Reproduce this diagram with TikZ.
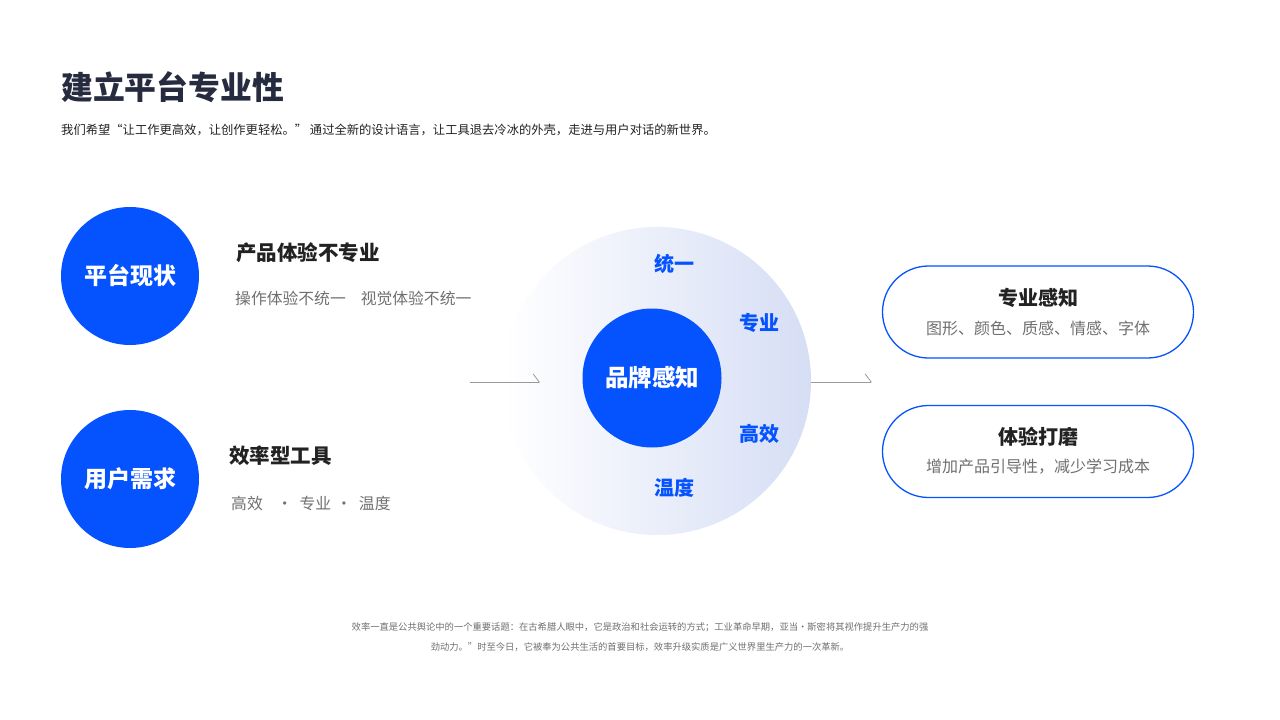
\documentclass[tikz,border=0pt]{standalone}
\usepackage{fontspec}
\setmainfont{Noto Sans CJK SC}
\usetikzlibrary{arrows.meta,shapes.misc}
\definecolor{brand}{HTML}{0552FF}
\definecolor{titlec}{HTML}{272B3F}
\definecolor{dark}{HTML}{222222}
\definecolor{greytxt}{HTML}{707070}
\definecolor{ringR}{HTML}{D6DEF5}
\definecolor{arrowc}{HTML}{9A9A9A}
\tikzset{
  bluedisc/.style={circle, fill=brand, minimum size=138pt, inner sep=0pt, text=white, font=\fontsize{23}{23}\selectfont\bfseries},
  heading/.style={anchor=west, inner sep=0pt, text=dark, font=\fontsize{20.5}{20.5}\selectfont\bfseries},
  sub/.style={anchor=west, inner sep=0pt, text=greytxt, font=\fontsize{15.8}{15.8}\selectfont},
  ringlabel/.style={inner sep=0pt, text=brand, font=\fontsize{20}{20}\selectfont\bfseries},
  pill/.style={rounded rectangle, draw=brand, line width=1.3pt, minimum width=311pt, minimum height=92pt, inner sep=0pt},
  pilltitle/.style={inner sep=0pt, text=dark, font=\fontsize{20}{20}\selectfont\bfseries},
  pillsub/.style={inner sep=0pt, text=greytxt, font=\fontsize{16}{16}\selectfont},
  flow/.style={draw=arrowc, line width=0.8pt, -{Straight Barb[left,length=6pt,width=16pt]}},
}
\begin{document}
\begin{tikzpicture}[x=1pt,y=-1pt]
\useasboundingbox[fill=white] (0,0) rectangle (1280,720);

% title
\node[anchor=west, inner sep=0pt, text=titlec, font=\fontsize{31.8}{31.8}\selectfont\bfseries] (title) at (61,87) {建立平台专业性};
\node[anchor=west, inner sep=0pt, text=dark, font=\fontsize{12.3}{12.3}\selectfont] (subtitle) at (61,130) {我们希望“让工作更高效，让创作更轻松。” 通过全新的设计语言，让工具退去冷冰的外壳，走进与用户对话的新世界。};

% left discs
\node[bluedisc] (d1) at (130,276) {平台现状};
\node[bluedisc] (d2) at (130,479) {用户需求};

\node[heading] (h1) at (236,253) {产品体验不专业};
\node[sub] (s1) at (235,298) {操作体验不统一\hspace{15pt}视觉体验不统一};
\node[heading] (h2) at (229,456) {效率型工具};
\node[sub] (s2) at (231,503) {高效\hspace{14pt}·\hspace{7pt}专业\hspace{5pt}·\hspace{7pt}温度};

% central ring
\node[circle, minimum size=308pt, inner sep=0pt, left color=white, right color=ringR, shading angle=90] (ring) at (657,381) {};
\node[circle, fill=brand, minimum size=139pt, inner sep=0pt, text=white, font=\fontsize{23.5}{23.5}\selectfont\bfseries] (core) at (652,378) {品牌感知};
\node[ringlabel] (l1) at (674,264) {统一};
\node[ringlabel] (l2) at (759,323) {专业};
\node[ringlabel] (l3) at (759,434) {高效};
\node[ringlabel] (l4) at (674,488) {温度};

% arrows
\coordinate (a1s) at (470,382);
\coordinate (a1e) at (540,382);
\coordinate (a2s) at (811,382);
\coordinate (a2e) at (872,382);
\draw[flow] (a1s) -- (a1e);
\draw[flow] (a2s) -- (a2e);

% pills
\node[pill] (p1) at (1038,312) {};
\node[pilltitle] (p1t) at ([yshift=14pt]p1.center) {专业感知};
\node[pillsub] (p1s) at ([yshift=-16pt]p1.center) {图形、颜色、质感、情感、字体};
\node[pill] (p2) at (1038,451.5) {};
\node[pilltitle] (p2t) at ([yshift=14.5pt]p2.center) {体验打磨};
\node[pillsub] (p2s) at ([yshift=-15.5pt]p2.center) {增加产品引导性，减少学习成本};

% footer
\node[inner sep=0pt, align=center, text=greytxt, font=\fontsize{9.3}{20}\selectfont] (foot) at (640,637) {效率一直是公共舆论中的一个重要话题：在古希腊人眼中，它是政治和社会运转的方式；工业革命早期，亚当·斯密将其视作提升生产力的强\\劲动力。”时至今日，它被奉为公共生活的首要目标，效率升级实质是广义世界里生产力的一次革新。};
\end{tikzpicture}
\end{document}
